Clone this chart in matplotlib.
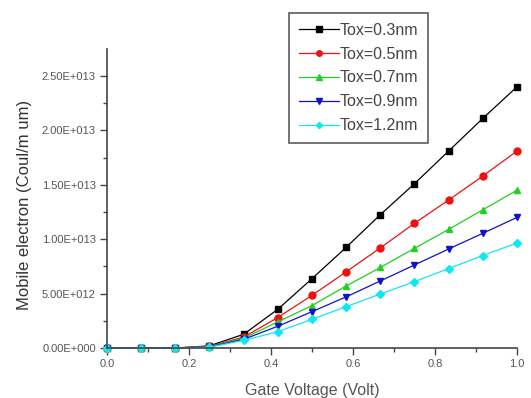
import numpy as np
from matplotlib import pyplot as plt
from matplotlib.ticker import FuncFormatter, MultipleLocator

plt.rcParams['font.family'] = ['Liberation Sans', 'DejaVu Sans']

gate_voltage = [0.0, 1/12, 2/12, 3/12, 4/12, 5/12, 6/12, 7/12, 8/12, 9/12, 10/12, 11/12, 1.0]

tox_03 = [0, 0, 0, 0.02e13, 0.126e13, 0.356e13, 0.637e13, 0.925e13, 1.225e13, 1.51e13, 1.81e13, 2.11e13, 2.40e13]
tox_05 = [0, 0, 0, 0.015e13, 0.10e13, 0.28e13, 0.484e13, 0.70e13, 0.92e13, 1.146e13, 1.36e13, 1.58e13, 1.81e13]
tox_07 = [0, 0, 0, 0.012e13, 0.09e13, 0.24e13, 0.39e13, 0.57e13, 0.74e13, 0.916e13, 1.09e13, 1.27e13, 1.45e13]
tox_09 = [0, 0, 0, 0.01e13, 0.08e13, 0.20e13, 0.334e13, 0.47e13, 0.616e13, 0.763e13, 0.91e13, 1.054e13, 1.20e13]
tox_12 = [0, 0, 0, 0.008e13, 0.07e13, 0.15e13, 0.264e13, 0.38e13, 0.496e13, 0.61e13, 0.73e13, 0.85e13, 0.965e13]

series = [
    ('Tox=0.3nm', tox_03, 'black', 's'),
    ('Tox=0.5nm', tox_05, '#f01010', 'o'),
    ('Tox=0.7nm', tox_07, '#20d020', '^'),
    ('Tox=0.9nm', tox_09, '#1010d0', 'v'),
    ('Tox=1.2nm', tox_12, '#10e8f0', 'D'),
]

fig = plt.figure(figsize=(5.31, 3.98), dpi=100)
ax = fig.add_axes([0.2015, 0.1256, 0.7721, 0.7514])

for label, vals, color, marker in series:
    ms = 4 if marker == 'D' else 5
    ax.plot(gate_voltage, vals, color=color, marker=marker, markersize=ms,
            linewidth=0.9, label=label, clip_on=False)

ax.set_xlim(0, 1.0)
ax.set_ylim(0, 2.748e13)
ax.spines['top'].set_visible(False)
ax.spines['right'].set_visible(False)
for side in ('left', 'bottom'):
    ax.spines[side].set_color('#444444')
    ax.spines[side].set_linewidth(1.2)

ax.xaxis.set_major_locator(MultipleLocator(0.2))
ax.xaxis.set_minor_locator(MultipleLocator(0.1))
ax.yaxis.set_major_locator(MultipleLocator(0.5e13))
ax.yaxis.set_minor_locator(MultipleLocator(0.25e13))


def sci_fmt(v, pos):
    if v == 0:
        return '0.00E+000'
    exp = int(np.floor(np.log10(abs(v))))
    return '%.2fE+%03d' % (v / 10**exp, exp)


ax.yaxis.set_major_formatter(FuncFormatter(sci_fmt))
ax.xaxis.set_major_formatter(FuncFormatter(lambda v, p: '%.1f' % v))
ax.tick_params(which='major', direction='out', length=5, width=1, color='#444444',
               labelsize=8, labelcolor='#555555', pad=3)
ax.tick_params(which='minor', direction='out', length=3, width=1, color='#444444')

ax.set_xlabel('Gate Voltage (Volt)', fontsize=11.5, color='#555555', labelpad=10)
ax.set_ylabel('Mobile electron (Coul/m um)', fontsize=12, color='#333333')
ax.yaxis.set_label_coords(-0.182, 0.48)

leg = fig.legend(loc='upper left', bbox_to_anchor=(289 / 531, 1 - 13 / 398),
                 fontsize=11.5, frameon=True, fancybox=False, borderpad=0.6,
                 borderaxespad=0, handlelength=2.5, handletextpad=0.1,
                 labelspacing=0.56, markerscale=0.8)
leg.get_frame().set_edgecolor('#333333')
leg.get_frame().set_linewidth(1.2)
for t in leg.get_texts():
    t.set_color('#444444')

fig.savefig('out.png', dpi=100)
